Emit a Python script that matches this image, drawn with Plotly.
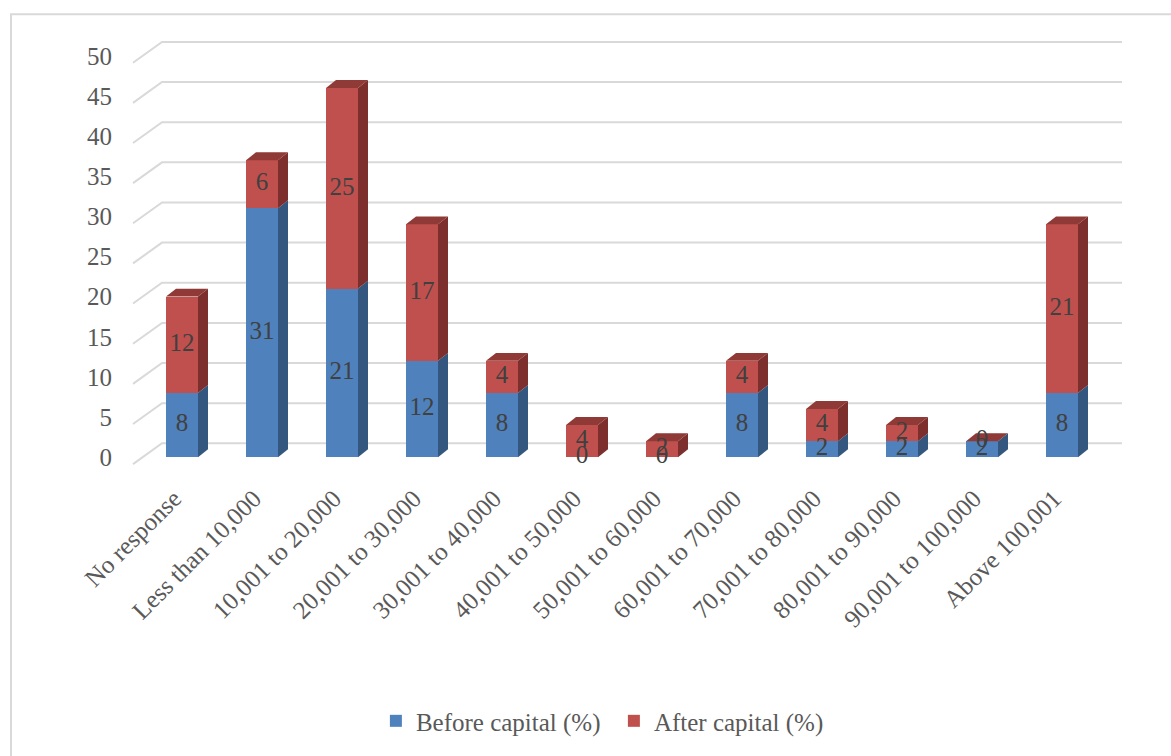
import plotly.graph_objects as go

# Income bands and the share of respondents before / after capital
categories = [
    "No response", "Less than 10,000", "10,001 to 20,000", "20,001 to 30,000",
    "30,001 to 40,000", "40,001 to 50,000", "50,001 to 60,000", "60,001 to 70,000",
    "70,001 to 80,000", "80,001 to 90,000", "90,001 to 100,000", "Above 100,001",
]
before_capital = [8, 31, 21, 12, 8, 0, 0, 8, 2, 2, 2, 8]
after_capital = [12, 6, 25, 17, 4, 4, 2, 4, 4, 2, 0, 21]
y_ticks = [0, 5, 10, 15, 20, 25, 30, 35, 40, 45, 50]

FONT = "Liberation Serif"
FS = 25
BLUE, BLUE_SIDE = "#4F81BD", "#34577F"
RED, RED_SIDE, RED_TOP = "#C0504D", "#7C2F2D", "#8F3A37"
GRID = "#D9D9D9"

BAR_W = 0.4      # front face width, in category units
DX, DY = 0.125, 0.99   # depth offset of the 3-D faces
FLOOR_FRONT, BACK_WALL = -0.864, 1.728   # floor front edge / back wall relative to value
X_FRONT, X_BACK, X_END = -0.6125, -0.25, 11.75

idx = list(range(len(categories)))

fig = go.Figure()

# back-wall gridlines with the diagonal floor edge on the left (kept under the bars)
grid_shapes = []
for v in y_ticks:
    yf, yb = v + FLOOR_FRONT, v + BACK_WALL
    grid_shapes.append(dict(type="path", xref="x", yref="y", layer="below",
                            path=f"M{X_FRONT},{yf} L{X_BACK},{yb} L{X_END},{yb}",
                            line=dict(color=GRID, width=2)))

# front faces
fig.add_trace(go.Bar(x=idx, y=before_capital, width=BAR_W, name="Before capital (%)",
                     marker=dict(color=BLUE, line=dict(width=0))))
fig.add_trace(go.Bar(x=idx, y=after_capital, width=BAR_W, name="After capital (%)",
                     marker=dict(color=RED, line=dict(width=0))))


def side_faces(lows, highs):
    xs, ys = [], []
    for i, lo, hi in zip(idx, lows, highs):
        if hi <= lo:
            continue
        xr = i + BAR_W / 2
        xs += [xr, xr + DX, xr + DX, xr, xr, None]
        ys += [lo, lo + DY, hi + DY, hi, lo, None]
    return xs, ys


tops = [b + a for b, a in zip(before_capital, after_capital)]
bx, by = side_faces([0] * len(idx), before_capital)
rx, ry = side_faces(before_capital, tops)
fig.add_trace(go.Scatter(x=bx, y=by, mode="lines", fill="toself", fillcolor=BLUE_SIDE,
                         line=dict(width=0, color=BLUE_SIDE), hoverinfo="skip", showlegend=False))
fig.add_trace(go.Scatter(x=rx, y=ry, mode="lines", fill="toself", fillcolor=RED_SIDE,
                         line=dict(width=0, color=RED_SIDE), hoverinfo="skip", showlegend=False))

# top faces
tx, ty = [], []
for i, t in zip(idx, tops):
    xl, xr = i - BAR_W / 2, i + BAR_W / 2
    tx += [xl, xl + DX, xr + DX, xr, xl, None]
    ty += [t, t + DY, t + DY, t, t, None]
fig.add_trace(go.Scatter(x=tx, y=ty, mode="lines", fill="toself", fillcolor=RED_TOP,
                         line=dict(width=0, color=RED_TOP), hoverinfo="skip", showlegend=False))

# data labels centred on each segment
lab_x = idx + idx
lab_y = [b / 2 for b in before_capital] + [b + a / 2 for b, a in zip(before_capital, after_capital)]
lab_t = [str(v) for v in before_capital] + [str(v) for v in after_capital]
fig.add_trace(go.Scatter(x=lab_x, y=lab_y, mode="text", text=lab_t,
                         textfont=dict(family=FONT, size=FS, color="#404040"),
                         hoverinfo="skip", showlegend=False))

fig.update_layout(
    width=1171, height=756,
    margin=dict(l=120, r=41, t=32, b=274),
    paper_bgcolor="white", plot_bgcolor="white",
    barmode="stack", bargap=0,
    font=dict(family=FONT, size=FS, color="#595959"),
    showlegend=True,
    legend=dict(orientation="h", x=0.489, xanchor="center", y=-0.545, yanchor="middle",
                font=dict(family=FONT, size=FS, color="#595959"),
                traceorder="normal", itemwidth=30, entrywidth=193, entrywidthmode="pixels"),
    shapes=grid_shapes + [dict(type="rect", xref="paper", yref="paper",
                               x0=-0.1079, x1=1.2, y0=-0.8, y1=1.04,
                               line=dict(color=GRID, width=2), fillcolor="rgba(0,0,0,0)",
                               layer="below")],
)
fig.update_xaxes(range=[-0.775, 11.85], tickvals=idx, ticktext=categories, tickangle=-45,
                 showgrid=False, zeroline=False, showline=False, ticks="",
                 ticklabelshift=-8, ticklabelstandoff=0,
                 tickfont=dict(family=FONT, size=FS, color="#595959"))
fig.update_yaxes(range=[-2.593, 52.963], tickvals=y_ticks, showgrid=False, zeroline=False,
                 showline=False, ticks="", ticklabelstandoff=7,
                 tickfont=dict(family=FONT, size=FS, color="#595959"))

fig.write_html("out.html")
